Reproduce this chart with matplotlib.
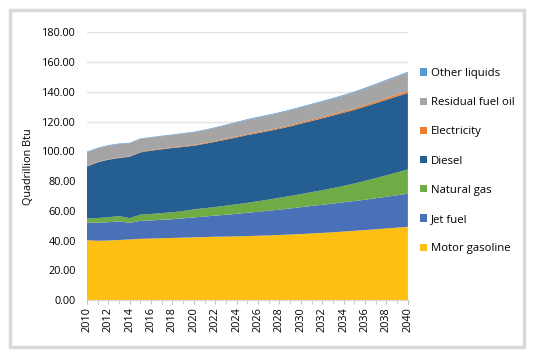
import matplotlib.pyplot as plt
import matplotlib.patches as patches
import numpy as np

years = np.arange(2010, 2041)

motor_gasoline = [40.3, 39.9, 40.1, 40.4, 40.8, 41.2, 41.4, 41.6, 41.8, 42.0, 42.2,
                  42.4, 42.6, 42.7, 42.9, 43.0, 43.3, 43.5, 43.8, 44.1, 44.4,
                  44.8, 45.2, 45.6, 46.1, 46.6, 47.1, 47.6, 48.2, 48.7, 49.3]
jet_fuel = [11.7, 12.2, 12.3, 12.5, 11.2, 12.1, 12.2, 12.4, 12.6, 13.0, 13.4,
            13.8, 14.2, 14.7, 15.1, 15.7, 16.1, 16.6, 17.0, 17.5, 18.1,
            18.5, 18.9, 19.3, 19.7, 20.0, 20.4, 20.9, 21.3, 21.8, 22.2]
natural_gas = [2.9, 3.1, 3.3, 3.6, 3.1, 4.1, 4.3, 4.5, 4.7, 4.9, 5.4,
               5.6, 5.8, 6.1, 6.4, 6.7, 7.1, 7.5, 8.0, 8.4, 8.8,
               9.3, 9.8, 10.4, 11.0, 11.8, 12.7, 13.5, 14.4, 15.4, 16.4]
diesel = [34.9, 37.4, 38.7, 39.0, 41.3, 41.9, 42.6, 42.9, 43.2, 43.1, 42.8,
          43.3, 43.9, 44.4, 45.0, 45.6, 45.8, 46.1, 46.4, 46.8, 47.3,
          47.8, 48.3, 48.8, 49.2, 49.5, 49.9, 50.4, 50.8, 51.1, 51.3]
electricity = [0.3, 0.3, 0.3, 0.3, 0.3, 0.4, 0.4, 0.4, 0.4, 0.5, 0.5,
               0.5, 0.5, 0.6, 0.6, 0.6, 0.7, 0.7, 0.7, 0.8, 0.8,
               0.9, 0.9, 0.9, 1.0, 1.0, 1.1, 1.1, 1.2, 1.2, 1.3]
residual_fuel_oil = [9.2, 9.1, 9.1, 9.1, 8.7, 8.6, 8.3, 8.3, 8.3, 8.4, 8.5,
                     8.6, 8.8, 9.1, 9.4, 9.6, 9.7, 9.8, 9.9, 10.0, 10.1,
                     10.2, 10.3, 10.4, 10.5, 10.7, 11.0, 11.3, 11.7, 12.0, 12.4]
other_liquids = [0.4] * 15 + [0.5] * 10 + [0.6] * 6

labels = ["Motor gasoline", "Jet fuel", "Natural gas", "Diesel",
          "Electricity", "Residual fuel oil", "Other liquids"]
colors = ["#FDBF12", "#4A70B8", "#6FAC46", "#255E91",
          "#ED7D31", "#A5A5A5", "#5B9BD5"]

plt.rcParams['font.family'] = ['Open Sans', 'DejaVu Sans']

fig = plt.figure(figsize=(5.36, 3.56), dpi=100)
ax = fig.add_axes([0.162, 0.157, 0.599, 0.752])

ax.stackplot(years, motor_gasoline, jet_fuel, natural_gas, diesel,
             electricity, residual_fuel_oil, other_liquids,
             labels=labels, colors=colors, linewidth=0)

ax.set_xlim(2010, 2040)
ax.set_ylim(0, 180)
ax.set_yticks(np.arange(0, 181, 20))
ax.set_yticklabels([f"{v:.2f}" for v in np.arange(0, 181, 20)], fontsize=7.8)
ax.set_xticks(np.arange(2010, 2041, 2))
ax.set_xticks(np.arange(2010, 2041, 1), minor=True)
ax.set_xticklabels([str(y) for y in range(2010, 2041, 2)], rotation=90, fontsize=7.8)
ax.tick_params(axis='y', length=0, pad=8)
ax.tick_params(axis='x', which='both', length=3, color='#BFBFBF', pad=2)
ax.grid(axis='y', color='#E3E3E3', linewidth=1)
ax.set_axisbelow(True)
for s in ['top', 'right', 'left']:
    ax.spines[s].set_visible(False)
ax.spines['bottom'].set_color('#D9D9D9')
ax.set_ylabel("Quadrillion Btu", fontsize=7.8, labelpad=6)

h, l = ax.get_legend_handles_labels()
fig.legend(h[::-1], l[::-1], loc='upper left', bbox_to_anchor=(0.765, 0.838),
           frameon=False, fontsize=8.2, handlelength=0.6, handleheight=0.6,
           handletextpad=0.3, labelspacing=1.6)

fig.patches.append(patches.Rectangle((0.0195, 0.025), 0.958, 0.948,
                                     transform=fig.transFigure, fill=False,
                                     edgecolor='#D9D9D9', linewidth=2.5))

fig.savefig("out.png", dpi=100)
